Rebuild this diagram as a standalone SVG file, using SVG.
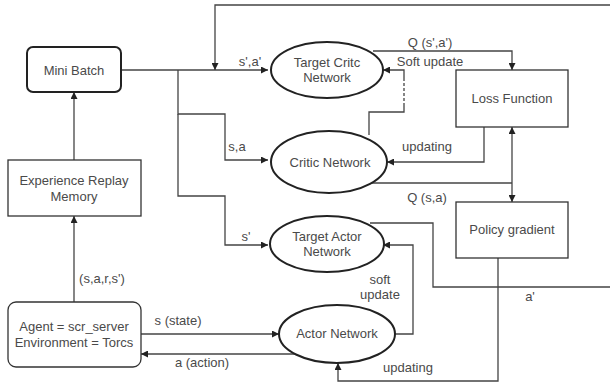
<svg xmlns="http://www.w3.org/2000/svg" width="610" height="383" viewBox="0 0 610 383">
<defs>
<marker id="ah" viewBox="0 0 10 10" refX="10" refY="5" markerWidth="7" markerHeight="7" markerUnits="userSpaceOnUse" orient="auto-start-reverse">
<path d="M0,0 L10,5 L0,10 z" fill="#222"/>
</marker>
<style>
text{font-family:"Liberation Sans",Arial,sans-serif;font-size:13px;fill:#4a4a4a;text-anchor:middle}
.n{fill:#fff;stroke:#333;stroke-width:1.3}
.e{fill:#fff;stroke:#222;stroke-width:2}
.c{fill:none;stroke:#444;stroke-width:1.3}
</style>
</defs>
<rect width="610" height="383" fill="#fff"/>
<g id="connectors">
<path class="c" d="M121,70 H268" marker-end="url(#ah)"/>
<path class="c" d="M610,5 H215 V70" marker-end="url(#ah)"/>
<path class="c" d="M178,70 V114 H225 V160 H268" marker-end="url(#ah)"/>
<path class="c" d="M178,114 V196 H225 V245 H268" marker-end="url(#ah)"/>
<path class="c" d="M74,302 V216" marker-end="url(#ah)"/>
<path class="c" d="M74,160 V92" marker-end="url(#ah)"/>
<path class="c" d="M141,334 H279" marker-end="url(#ah)"/>
<path class="c" d="M296,354 H141" marker-end="url(#ah)"/>
<path class="c" d="M373,51 H512 V70" marker-end="url(#ah)"/>
<path class="c" d="M369,135 V112 H404 V106"/>
<path class="c" d="M404,106 V80" stroke-dasharray="3,2"/>
<path class="c" d="M404,80 V70 H383" marker-end="url(#ah)"/>
<path class="c" d="M484,127 V162 H387" marker-end="url(#ah)"/>
<path class="c" d="M368,183 H512"/>
<path class="c" d="M512,127 V202" marker-start="url(#ah)" marker-end="url(#ah)"/>
<path class="c" d="M370,223 H433 V287 H610"/>
<path class="c" d="M395,334 H413 V245 H383" marker-end="url(#ah)"/>
<path class="c" d="M498,258 V381 H338 V363" marker-end="url(#ah)"/>
</g>
<g id="mini-batch"><rect class="n" x="27" y="47" width="94" height="45" rx="6" style="stroke-width:2;stroke:#222"/><text x="74" y="75">Mini Batch</text></g>
<g id="experience-replay"><rect class="n" x="8" y="160" width="133" height="56"/><text x="74" y="185">Experience Replay</text><text x="74" y="201">Memory</text></g>
<g id="agent"><rect class="n" x="8" y="302" width="133" height="65" rx="8"/><text x="74" y="331">Agent = scr_server</text><text x="74" y="347">Environment = Torcs</text></g>
<g id="target-critic"><ellipse class="e" cx="327" cy="70" rx="56" ry="28"/><text x="327" y="67">Target Critc</text><text x="327" y="82">Network</text></g>
<g id="critic"><ellipse class="e" cx="329" cy="162" rx="58" ry="31"/><text x="330" y="167">Critic Network</text></g>
<g id="target-actor"><ellipse class="e" cx="327" cy="244" rx="57" ry="28"/><text x="327" y="241">Target Actor</text><text x="327" y="256">Network</text></g>
<g id="actor"><ellipse class="e" cx="337" cy="334" rx="58" ry="29"/><text x="337" y="338">Actor Network</text></g>
<g id="loss"><rect class="n" x="456" y="70" width="112" height="57"/><text x="512" y="103">Loss Function</text></g>
<g id="policy"><rect class="n" x="456" y="202" width="112" height="56"/><text x="512" y="234">Policy gradient</text></g>
<g id="labels">
<text x="250" y="66">s',a'</text>
<text x="430" y="47">Q (s',a')</text>
<text x="430" y="66">Soft update</text>
<text x="237" y="151">s,a</text>
<text x="427" y="151">updating</text>
<text x="427" y="202">Q (s,a)</text>
<text x="246" y="241">s'</text>
<text x="380" y="284">soft</text>
<text x="380" y="299">update</text>
<text x="530" y="301">a'</text>
<text x="408" y="372">updating</text>
<text x="102" y="283">(s,a,r,s')</text>
<text x="178" y="325">s (state)</text>
<text x="202" y="367">a (action)</text>
</g>
</svg>
